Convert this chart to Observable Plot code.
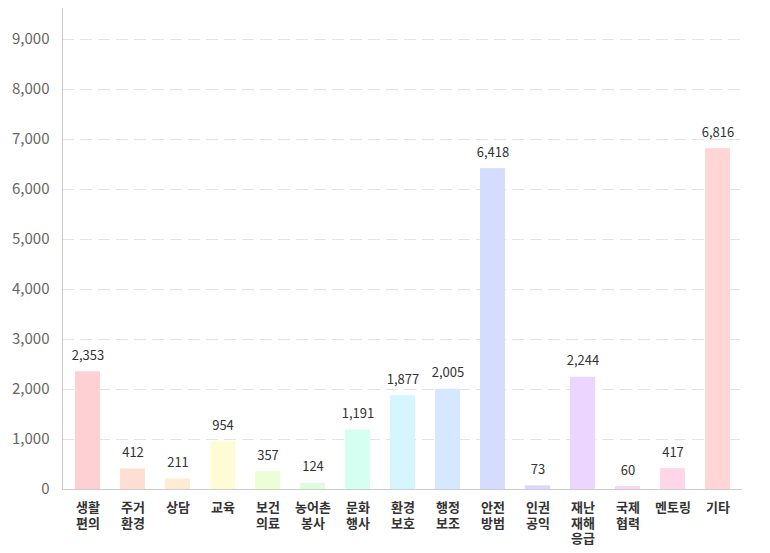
<!DOCTYPE html>
<html>
<head>
<meta charset="utf-8">
<script src="https://cdn.jsdelivr.net/npm/d3@7"></script>
<script src="https://cdn.jsdelivr.net/npm/@observablehq/plot@0.6"></script>
<style>
  html, body { margin: 0; padding: 0; background: #fff; }
  #chart { width: 770px; height: 553px; }
</style>
</head>
<body>
<div id="chart"></div>
<script>
const categories = ["생활\n편의", "주거\n환경", "상담", "교육", "보건\n의료", "농어촌\n봉사", "문화\n행사", "환경\n보호", "행정\n보조", "안전\n방범", "인권\n공익", "재난\n재해\n응급", "국제\n협력", "멘토링", "기타"];
const values = [2353, 412, 211, 954, 357, 124, 1191, 1877, 2005, 6418, 73, 2244, 60, 417, 6816];
const colors = ["#ffd0d3", "#ffdfd3", "#ffecd5", "#fffbd5", "#eaffd5", "#e0fbe0", "#d5fff0", "#d5f5ff", "#d5e8ff", "#d5ddff", "#ddd5ff", "#ecd5ff", "#fad5f4", "#ffd5e8", "#ffd5d5"];
const yTicks = [0, 1000, 2000, 3000, 4000, 5000, 6000, 7000, 8000, 9000];

const data = categories.map((c, i) => ({cat: c, value: values[i], color: colors[i]}));
const fmt = d3.format(",");

const chart = Plot.plot({
  width: 770,
  height: 553,
  marginLeft: 62,
  marginRight: 28,
  marginTop: 8,
  marginBottom: 64,
  style: {fontFamily: "'Noto Sans CJK KR', 'Noto Sans', sans-serif", background: "#fff"},
  x: {domain: categories, paddingInner: 0.447, paddingOuter: 0.243, label: null},
  y: {domain: [0, 9620], label: null},
  marks: [
    Plot.gridY(yTicks.filter(d => d > 0), {stroke: "#e3e3e3", strokeOpacity: 1, strokeDasharray: "12,6"}),
    Plot.barY(data, {x: "cat", y: "value", fill: "color"}),
    Plot.ruleY([0], {stroke: "#cccccc"}),
    Plot.frame({anchor: "left", stroke: "#cccccc"}),
    Plot.axisY(yTicks, {tickSize: 0, tickPadding: 13, fontSize: 15, fill: "#666", tickFormat: fmt, label: null}),
    Plot.axisX({tickSize: 0, tickPadding: 12, fontSize: 13, fontWeight: "bold", fill: "#333", lineHeight: 1.18, label: null}),
    Plot.text(data, {x: "cat", y: "value", text: d => fmt(d.value), dy: -12, lineAnchor: "bottom", fontSize: 13, fill: "#333"})
  ]
});
document.getElementById("chart").appendChild(chart);
</script>
</body>
</html>
